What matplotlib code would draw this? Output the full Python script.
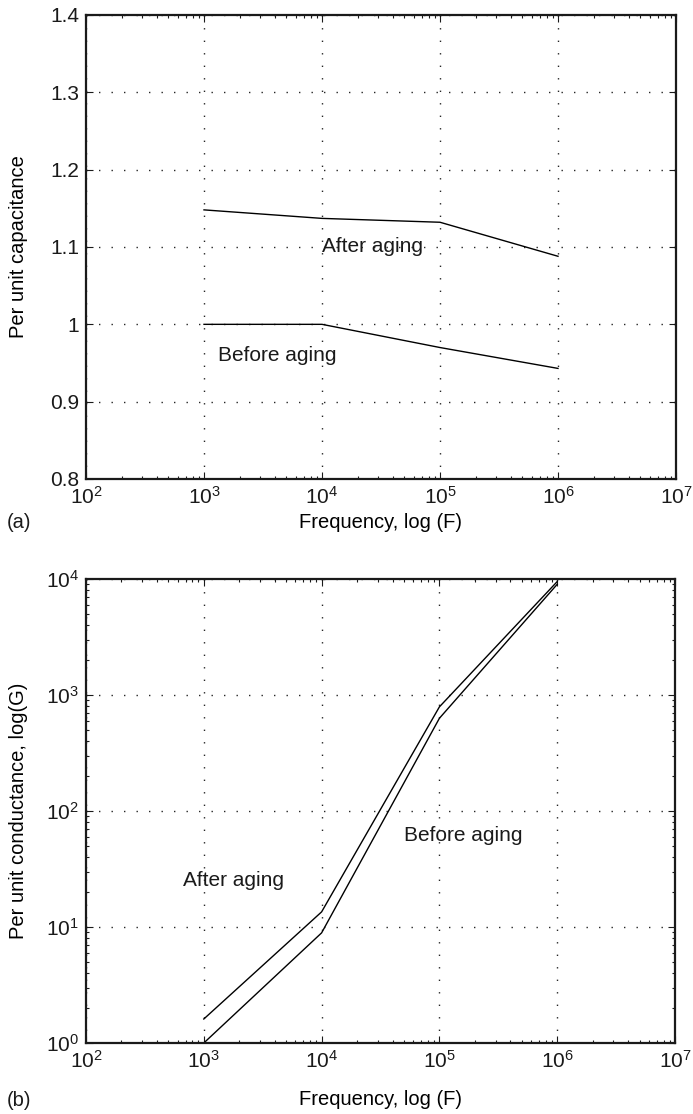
import numpy as np
import matplotlib
matplotlib.use("Agg")
import matplotlib.pyplot as plt
import matplotlib as mpl

# データ
freq = [1e3, 1e4, 1e5, 1e6]
cap_after = [1.148, 1.137, 1.132, 1.088]
cap_before = [1.0, 1.0, 0.970, 0.943]
cond_after = [1.61, 13.5, 790, 9500]
cond_before = [1.0, 8.9, 630, 9000]


def style_axes(ax):
    ax.set_xscale("log")
    ax.set_xlim(1e2, 1e7)
    ax.grid(True, which="major", color="0.15", linestyle=(0, (1, 8)), linewidth=1.0)
    ax.tick_params(which="both", direction="in", top=True, right=True,
                   labelsize=15, width=0.8, pad=5, colors="0.1")
    ax.tick_params(which="major", length=5)
    ax.tick_params(which="minor", length=2.5)
    for s in ax.spines.values():
        s.set_linewidth(1.6)
        s.set_color("0.1")


def main():
    mpl.rc("font", family="Liberation Sans")
    mpl.rcParams["mathtext.fontset"] = "custom"
    mpl.rcParams["mathtext.rm"] = "Liberation Sans"
    mpl.rcParams["mathtext.it"] = "Liberation Sans:italic"
    mpl.rcParams["text.color"] = "0.1"

    fig = plt.figure(figsize=(6.93, 11.14), dpi=100)
    W, H = 693, 1114

    # (a) 容量
    ax1 = fig.add_axes([86 / W, 1 - 479 / H, 590 / W, 464 / H])
    style_axes(ax1)
    ax1.plot(freq, cap_after, color="black", linewidth=1.0)
    ax1.plot(freq, cap_before, color="black", linewidth=1.0)
    ax1.set_ylim(0.8, 1.4)
    ax1.set_yticks([0.8, 0.9, 1.0, 1.1, 1.2, 1.3, 1.4])
    ax1.set_yticklabels(["0.8", "0.9", "1", "1.1", "1.2", "1.3", "1.4"])
    ax1.text(1.0e4, 1.10, "After aging", fontsize=15, va="center", ha="left")
    ax1.text(1.32e3, 0.96, "Before aging", fontsize=15, va="center", ha="left")
    ax1.set_xlabel("Frequency, log (F)", fontsize=14.5)
    ax1.xaxis.set_label_coords(0.5, -0.073)
    ax1.set_ylabel("Per unit capacitance", fontsize=14.5)
    ax1.yaxis.set_label_coords(-0.098, 0.5)

    # (b) コンダクタンス
    ax2 = fig.add_axes([86 / W, 1 - 1043 / H, 589 / W, 464 / H])
    style_axes(ax2)
    ax2.set_yscale("log")
    ax2.plot(freq, cond_after, color="black", linewidth=1.0)
    ax2.plot(freq, cond_before, color="black", linewidth=1.0)
    ax2.set_ylim(1, 1e4)
    ax2.text(10 ** 2.82, 10 ** 1.40, "After aging", fontsize=15, va="center", ha="left")
    ax2.text(10 ** 4.70, 10 ** 1.79, "Before aging", fontsize=15, va="center", ha="left")
    ax2.set_xlabel("Frequency, log (F)", fontsize=14.5)
    ax2.xaxis.set_label_coords(0.5, -0.101)
    ax2.set_ylabel("Per unit conductance, log(G)", fontsize=14.5)
    ax2.yaxis.set_label_coords(-0.098, 0.5)

    fig.text(7 / W, 1 - 523 / H, "(a)", fontsize=14.5, va="center", ha="left")
    fig.text(7 / W, 1 - 1100 / H, "(b)", fontsize=14.5, va="center", ha="left")

    fig.savefig("out.png", dpi=100)


if __name__ == "__main__":
    main()
